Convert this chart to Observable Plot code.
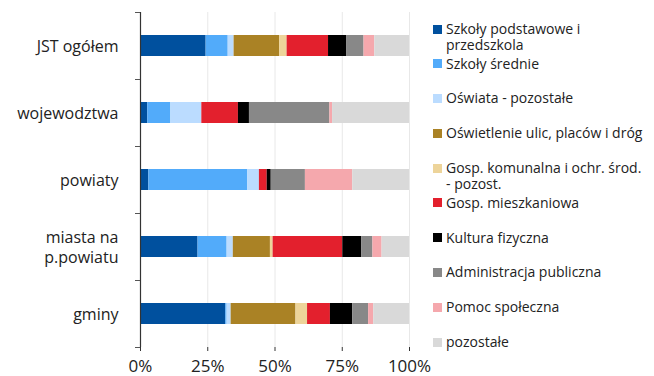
<!DOCTYPE html>
<html>
<head>
<meta charset="utf-8">
<script src="https://cdn.jsdelivr.net/npm/d3@7"></script>
<script src="https://cdn.jsdelivr.net/npm/@observablehq/plot@0.6"></script>
<style>
  html, body { margin: 0; padding: 0; background: #fff; }
  #wrap { position: relative; width: 654px; height: 376px; overflow: hidden; font-family: "Open Sans", sans-serif; color: #222; }
  #chart { position: absolute; left: 0; top: 0; }
  #chart svg { overflow: visible; }
  #legend { position: absolute; left: 433px; top: 20.75px; width: 221px; }
  .item { display: flex; align-items: flex-start; height: 34.8px; }
  .sw { width: 9px; height: 9px; flex: none; margin-top: 3.75px; margin-right: 4px; }
  .lab { font-size: 14px; line-height: 16.5px; white-space: pre; }
</style>
</head>
<body>
<div id="wrap">
  <div id="chart"></div>
  <div id="legend"></div>
</div>
<script>
const categories = ["JST ogółem", "wojewodztwa", "powiaty", "miasta na p.powiatu", "gminy"];
const categoryLabels = ["JST ogółem", "wojewodztwa", "powiaty", "miasta na\np.powiatu", "gminy"];
const series = [
  "Szkoły podstawowe i przedszkola",
  "Szkoły średnie",
  "Oświata - pozostałe",
  "Oświetlenie ulic, placów i dróg",
  "Gosp. komunalna i ochr. środ. - pozost.",
  "Gosp. mieszkaniowa",
  "Kultura fizyczna",
  "Administracja publiczna",
  "Pomoc społeczna",
  "pozostałe"
];
const legendLabels = [
  "Szkoły podstawowe i\nprzedszkola",
  "Szkoły średnie",
  "Oświata - pozostałe",
  "Oświetlenie ulic, placów i dróg",
  "Gosp. komunalna i ochr. środ.\n- pozost.",
  "Gosp. mieszkaniowa",
  "Kultura fizyczna",
  "Administracja publiczna",
  "Pomoc społeczna",
  "pozostałe"
];
const colors = ["#00509E", "#52ABFA", "#BBDCFF", "#AA8225", "#EDD49A", "#E3202D", "#000000", "#888888", "#F5A8AD", "#D9D9D9"];

// shares (%) per category, in series order
const jstOgolem   = [24.4, 8.2, 2.2, 16.9, 2.8, 15.4, 6.7, 6.5, 4.0, 12.9];
const wojewodztwa = [2.7, 8.6, 11.5, 0, 0, 13.6, 4.1, 29.9, 1.0, 28.6];
const powiaty     = [3.1, 36.8, 4.3, 0, 0, 2.9, 1.5, 12.7, 17.6, 21.1];
const miasta      = [21.4, 10.8, 2.3, 13.8, 1.0, 25.9, 7.0, 4.2, 3.4, 10.2];
const gminy       = [31.7, 0.5, 1.5, 24.1, 4.3, 8.5, 8.3, 5.9, 1.9, 13.3];
const xTicks = [0, 25, 50, 75, 100];

const rows = [jstOgolem, wojewodztwa, powiaty, miasta, gminy];
const data = [];
rows.forEach((vals, i) => vals.forEach((v, j) => data.push({category: categories[i], series: series[j], value: v})));

const W = 420, H = 376, mt = 12, mb = 29, ml = 140, mr = 11;
const pIn = 0.69, pOut = 0.345;
const step = (H - mt - mb) / (categories.length - pIn + 2 * pOut);
const labelOf = new Map(categories.map((c, i) => [c, categoryLabels[i]]));

const plot = Plot.plot({
  width: W,
  height: H,
  marginTop: mt,
  marginBottom: mb,
  marginLeft: ml,
  marginRight: mr,
  style: {fontFamily: "Open Sans, sans-serif", fontSize: "16px", color: "#222", background: "transparent", overflow: "visible"},
  x: {domain: [0, 100], axis: null, label: null},
  y: {domain: categories, axis: null, label: null, paddingInner: pIn, paddingOuter: pOut},
  color: {domain: series, range: colors},
  marks: [
    Plot.gridX(xTicks.slice(1), {stroke: "#e8e8e8", strokeOpacity: 1}),
    Plot.barX(data, {x: "value", y: "category", fill: "series"}),
    Plot.ruleX([0], {stroke: "#333", strokeWidth: 1.2}),
    Plot.axisX({ticks: xTicks, tickFormat: d => d + "%", tickSize: 4, tickPadding: 8, fontSize: 17, line: true, stroke: "#333", label: null}),
    Plot.axisY({tickSize: 0, tickPadding: 22, fontSize: 16, tickFormat: d => labelOf.get(d), lineHeight: 1.25, label: null}),
    Plot.axisY({tickSize: 5, tickFormat: () => "", dy: step / 2, stroke: "#555", label: null}),
    Plot.axisY({ticks: [categories[0]], tickSize: 5, tickFormat: () => "", dy: -step / 2, stroke: "#555", label: null})
  ]
});
document.getElementById("chart").appendChild(plot);

const legend = document.getElementById("legend");
series.forEach((s, i) => {
  const item = document.createElement("div");
  item.className = "item";
  const sw = document.createElement("div");
  sw.className = "sw";
  sw.style.background = colors[i];
  const lab = document.createElement("div");
  lab.className = "lab";
  lab.textContent = legendLabels[i];
  item.appendChild(sw);
  item.appendChild(lab);
  legend.appendChild(item);
});
</script>
</body>
</html>
